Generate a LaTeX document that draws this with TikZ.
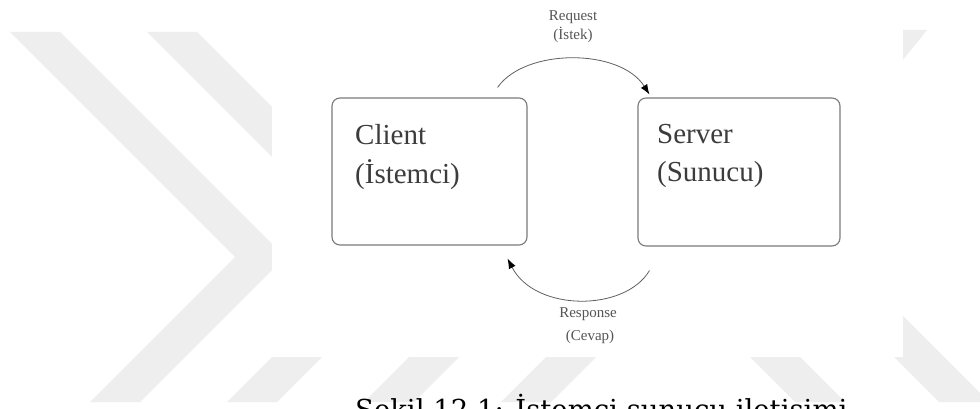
\documentclass[tikz,border=0pt]{standalone}
\usepackage{fontspec}
\setmainfont{Liberation Serif}
\newfontfamily\capfont{DejaVu Serif}
\usetikzlibrary{arrows.meta}
\definecolor{wmgray}{HTML}{EEEEEE}
\definecolor{boxline}{HTML}{7A7A7A}
\definecolor{boxtext}{HTML}{3C3C3C}
\definecolor{arcline}{HTML}{606060}
\definecolor{smalltext}{HTML}{555555}
\tikzset{
  wm/.style={fill=wmgray, draw=none},
  box/.style={draw=boxline, line width=1.1pt, rounded corners=8pt, fill=white, inner sep=0pt},
  boxlbl/.style={text=boxtext, font=\fontsize{29}{34}\selectfont, inner sep=0pt, anchor=base west},
  arclbl/.style={text=smalltext, font=\fontsize{15}{18}\selectfont, inner sep=0pt, anchor=base},
  conn/.style={draw=arcline, line width=0.8pt, -{Latex[length=10pt,width=7.5pt,color=black]}},
  caption/.style={text=black, font=\capfont\fontsize{27.5}{32}\selectfont, inner sep=0pt, anchor=base west}
}
\begin{document}
\begin{tikzpicture}[x=1pt,y=-1pt]
\clip (0,0) rectangle (980,409);
\fill[white] (0,0) rectangle (980,409);
% watermark chevrons
\foreach \s in {0,137,274,411}{
  \fill[wm] ([xshift=\s pt]10,32) -- ([xshift=\s pt]60,32) -- ([xshift=\s pt]285,257) -- ([xshift=\s pt]140,402) -- ([xshift=\s pt]90,402) -- ([xshift=\s pt]235,257) -- cycle;
}
\fill[wm] (700,307) -- (750,307) -- (845,402) -- (795,402) -- cycle;
\fill[wm] (837,300) -- (887,300) -- (989,402) -- (939,402) -- cycle;
\fill[wm] (880,30) -- (927,30) -- (890,76) -- (850,76) -- cycle;
\fill[white] (272,0) rectangle (903,357);
% boxes
\node[box, minimum width=195pt, minimum height=147pt] (client) at (429.5,171.5) {};
\node[box, minimum width=202pt, minimum height=148pt] (server) at (739,172) {};
\node[boxlbl] (clientname) at (355,145) {Client};
\node[boxlbl] (clientsub) at (355,183) {(İstemci)};
\node[boxlbl] (servername) at (657,143) {Server};
\node[boxlbl] (serversub) at (657,182) {(Sunucu)};
% connectors
\coordinate (reqA) at ([xshift=-30pt,yshift=10pt]client.north east);
\coordinate (reqB) at ([xshift=12pt,yshift=3pt]server.north west);
\draw[conn] (reqA) .. controls (525,48) and (620,48) .. (reqB);
\coordinate (resA) at ([xshift=12pt,yshift=-24pt]server.south west);
\coordinate (resB) at ([xshift=-20pt,yshift=-13pt]client.south east);
\draw[conn] (resA) .. controls (625,312) and (535,312) .. (resB);
% labels
\node[arclbl] (req1) at (573,21) {Request};
\node[arclbl] (req2) at (573,40) {(İstek)};
\node[arclbl] (res1) at (588,317) {Response};
\node[arclbl] (res2) at (590,340) {(Cevap)};
% caption
\node[caption] (cap) at (355,419) {Şekil 12.1: İstemci sunucu iletişimi};
\end{tikzpicture}
\end{document}
